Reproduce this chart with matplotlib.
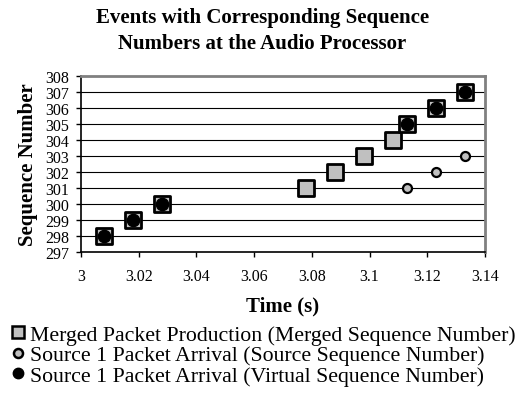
import matplotlib
matplotlib.use("Agg")
import matplotlib.pyplot as plt
from matplotlib.lines import Line2D

plt.rcParams['font.family'] = ['Liberation Serif', 'DejaVu Serif']

# Data
merged_t = [3.008, 3.018, 3.028, 3.078, 3.088, 3.098, 3.108, 3.113, 3.123, 3.133]
merged_seq = [298, 299, 300, 301, 302, 303, 304, 305, 306, 307]
src_t = [3.113, 3.123, 3.133]
src_seq = [301, 302, 303]
virt_t = [3.008, 3.018, 3.028, 3.113, 3.123, 3.133]
virt_seq = [298, 299, 300, 305, 306, 307]

x_ticks = [3.0, 3.02, 3.04, 3.06, 3.08, 3.1, 3.12, 3.14]
x_labels = ['3', '3.02', '3.04', '3.06', '3.08', '3.1', '3.12', '3.14']
y_ticks = list(range(297, 309))

labels = ['Merged Packet Production (Merged Sequence Number)',
          'Source 1 Packet Arrival (Source Sequence Number)',
          'Source 1 Packet Arrival (Virtual Sequence Number)']

fig = plt.figure(figsize=(5.16, 4.14), dpi=100)
ax = fig.add_axes([0.157, 0.389, 0.783, 0.425])

for y in y_ticks[1:-1]:
    ax.axhline(y, color='black', lw=0.8, zorder=1)

ax.scatter(merged_t, merged_seq, marker='s', s=135, facecolor='#c0c0c0',
           edgecolor='black', linewidths=2.0, zorder=3)
ax.scatter(src_t, src_seq, marker='o', s=42, facecolor='#c0c0c0',
           edgecolor='black', linewidths=1.6, zorder=4)
ax.scatter(virt_t, virt_seq, marker='o', s=78, facecolor='black',
           edgecolor='black', linewidths=1, zorder=5)

ax.set_xlim(3.0, 3.14)
ax.set_ylim(297, 308)
ax.set_xticks(x_ticks)
ax.set_xticklabels(x_labels, fontsize=11.5)
ax.set_yticks(y_ticks)
ax.set_yticklabels([str(v) for v in y_ticks], fontsize=11.5)
ax.tick_params(axis='both', direction='out', length=3.5, width=1, color='black')
ax.tick_params(axis='y', pad=5)
ax.tick_params(axis='x', pad=8)

for side in ['top', 'right']:
    ax.spines[side].set_color('#808080')
    ax.spines[side].set_linewidth(2)
for side in ['left', 'bottom']:
    ax.spines[side].set_color('black')
    ax.spines[side].set_linewidth(1.2)

ax.set_xlabel('Time (s)', fontsize=15, fontweight='bold', labelpad=8)
ax.set_ylabel('Sequence Number', fontsize=15, fontweight='bold', labelpad=5)

fig.text(0.508, 0.98, 'Events with Corresponding Sequence\nNumbers at the Audio Processor',
         ha='center', va='top', fontsize=15, fontweight='bold', linespacing=1.4)

handles = [
    Line2D([], [], linestyle='none', marker='s', markersize=8.5, markerfacecolor='#c0c0c0',
           markeredgecolor='black', markeredgewidth=1.8),
    Line2D([], [], linestyle='none', marker='o', markersize=6.5, markerfacecolor='#c0c0c0',
           markeredgecolor='black', markeredgewidth=1.8),
    Line2D([], [], linestyle='none', marker='o', markersize=7.5, markerfacecolor='black',
           markeredgecolor='black'),
]
fig.legend(handles, labels, loc='upper left', bbox_to_anchor=(-0.008, 0.25),
           frameon=False, fontsize=15.7, handlelength=0.6, handletextpad=0.25,
           labelspacing=0.0, borderpad=0.2)

fig.savefig('out.png', dpi=100)
